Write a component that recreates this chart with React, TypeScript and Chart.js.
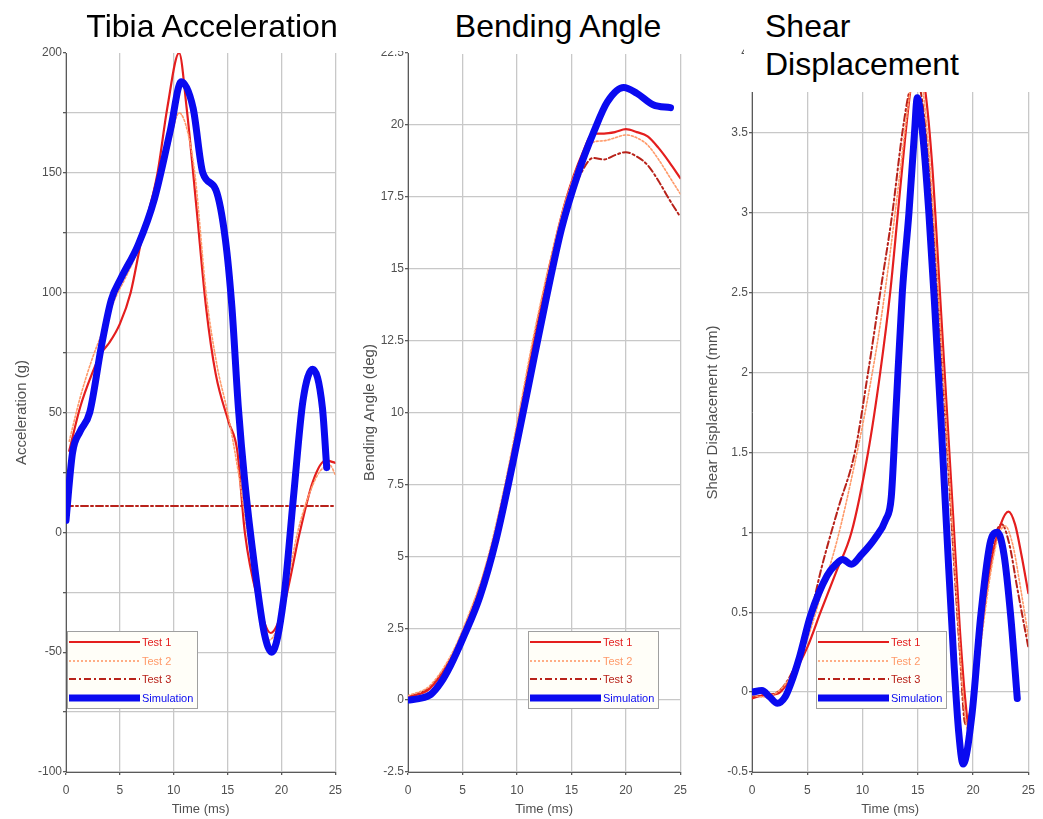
import React, { useEffect, useRef } from 'react';
import { Chart, registerables } from 'chart.js';

Chart.register(...registerables);

const FONT = "'Liberation Sans', Arial, Helvetica, sans-serif";

// ---------- Series labels ----------
const seriesLabels = ['Test 1', 'Test 2', 'Test 3', 'Simulation'];
const xTickValues = [0, 5, 10, 15, 20, 25];

// ---------- Panel 1: Tibia Acceleration ----------
const accTimeT1 = [0.3, 1.3, 2.4, 3.3, 4.0, 5.0, 6.0, 7.0, 8.5, 9.4, 10.5, 11.2, 12.1, 13.0, 13.9, 15.1, 15.9, 16.6, 17.8, 19.0, 20.2, 21.7, 22.9, 24.1, 25];
const accT1 = [34, 52, 66, 75, 79, 87, 100, 122, 150, 177, 200, 177, 136, 94, 66, 46, 34, 0, -28, -42, -31, 0, 21, 30, 29];
const accTimeT2 = [0.3, 1.3, 2.4, 3.5, 4.6, 5.5, 6.5, 7.5, 8.5, 9.5, 10.5, 11.3, 12.0, 13.0, 14.0, 15.0, 16.0, 17.0, 18.0, 18.8, 19.6, 20.5, 21.5, 22.5, 23.5, 24.5, 25];
const accT2 = [38, 56, 72, 85, 98, 106, 116, 130, 148, 160, 175, 167, 148, 100, 70, 50, 25, -5, -32, -45, -40, -22, 0, 15, 25, 28, 24];
const accTimeT3 = [0, 5, 10, 15, 20, 25];
const accT3 = [11, 11, 11, 11, 11, 11];
const accTimeSim = [0, 0.6, 1.3, 2.2, 3.3, 4.2, 5.1, 6.7, 8.2, 9.7, 10.7, 11.8, 12.7, 13.9, 14.8, 15.4, 16.0, 16.6, 17.5, 18.4, 19.1, 20.2, 21.1, 22.0, 22.9, 23.8, 24.2];
const accSim = [5, 33, 42, 50, 78, 97, 106, 120, 139, 168, 188, 177, 150, 143, 122, 94, 52, 21, -14, -42, -50, -28, 14, 55, 68, 52, 27];

// ---------- Panel 2: Bending Angle ----------
const bendTime = [0, 2, 4, 5.5, 7, 8.5, 10, 11.5, 13, 14.5, 16, 17, 18, 19, 20, 21, 22, 23, 24, 25];
const bendT1 = [0.1, 0.4, 1.5, 2.8, 4.4, 6.6, 9.4, 12.4, 15.1, 17.4, 19.0, 19.7, 19.7, 19.75, 19.85, 19.75, 19.6, 19.2, 18.7, 18.15];
const bendT2 = [0.15, 0.5, 1.6, 2.9, 4.5, 6.8, 9.6, 12.6, 15.2, 17.4, 18.9, 19.4, 19.45, 19.55, 19.65, 19.55, 19.3, 18.8, 18.2, 17.6];
const bendT3 = [0.1, 0.45, 1.5, 2.8, 4.4, 6.6, 9.4, 12.4, 15.0, 17.0, 18.4, 18.85, 18.8, 18.95, 19.05, 18.9, 18.6, 18.05, 17.4, 16.8];
const bendTimeSim = [0, 1, 2.1, 3, 3.9, 5.1, 6.6, 8.1, 9.6, 11.1, 12.6, 14.1, 15.6, 17.1, 18.3, 19.8, 21.0, 22.5, 24.1];
const bendSim = [0, 0.05, 0.2, 0.6, 1.2, 2.2, 3.6, 5.6, 8.2, 11.0, 13.8, 16.4, 18.3, 19.8, 20.8, 21.3, 21.1, 20.7, 20.6];

// ---------- Panel 3: Shear Displacement ----------
const shearTimeT1 = [0, 1, 2.3, 3.8, 5.0, 6.2, 7.6, 9.0, 10.5, 11.6, 12.5, 13.2, 13.9, 14.5, 15.1, 15.7, 16.3, 17.0, 17.6, 18.2, 18.8, 19.3, 19.7, 20.2, 20.8, 21.6, 22.5, 23.2, 23.8, 24.4, 25];
const shearT1 = [-0.04, -0.02, -0.01, 0.12, 0.28, 0.5, 0.75, 1.0, 1.5, 2.0, 2.5, 3.0, 3.5, 3.85, 3.95, 3.75, 3.3, 2.5, 1.8, 1.1, 0.4, -0.05, -0.25, 0.0, 0.4, 0.8, 1.05, 1.13, 1.05, 0.85, 0.62];
const shearTimeT2 = [0, 1, 2.3, 3.8, 5.0, 6.2, 7.7, 9.2, 10.5, 11.6, 12.5, 13.3, 14.0, 14.6, 15.2, 15.8, 16.5, 17.2, 17.9, 18.6, 19.2, 19.6, 20.1, 20.8, 21.6, 22.3, 22.9, 23.6, 24.3, 25];
const shearT2 = [-0.02, -0.03, 0.0, 0.13, 0.33, 0.6, 0.95, 1.4, 1.85, 2.3, 2.75, 3.2, 3.6, 3.85, 3.85, 3.55, 2.9, 2.1, 1.3, 0.5, -0.1, -0.25, -0.05, 0.35, 0.75, 0.98, 1.04, 0.92, 0.65, 0.35];
const shearTimeT3 = [0, 1, 2.3, 3.8, 5.0, 6.3, 7.8, 9.3, 10.5, 11.6, 12.7, 13.6, 14.2, 14.8, 15.4, 16.1, 16.8, 17.5, 18.2, 18.8, 19.3, 19.8, 20.5, 21.3, 22.0, 22.6, 23.3, 24.0, 25];
const shearT3 = [-0.03, -0.02, 0.0, 0.15, 0.4, 0.78, 1.15, 1.5, 2.0, 2.5, 3.0, 3.5, 3.75, 3.85, 3.7, 3.2, 2.5, 1.7, 0.9, 0.25, -0.2, -0.1, 0.3, 0.72, 0.98, 1.05, 0.92, 0.65, 0.28];
const shearTimeSim = [0, 0.9, 1.6, 2.3, 3.0, 3.5, 4.3, 5.3, 6.8, 7.6, 8.2, 9.0, 9.9, 11.1, 12.1, 12.6, 13.0, 13.6, 14.2, 14.7, 14.95, 15.5, 16.0, 16.5, 17.1, 17.7, 18.3, 18.7, 19.1, 19.9, 20.7, 21.6, 22.2, 22.8, 23.4, 24.0];
const shearSim = [0, 0.01, -0.03, -0.07, -0.03, 0.05, 0.22, 0.48, 0.73, 0.8, 0.83, 0.8, 0.86, 0.96, 1.08, 1.22, 1.73, 2.5, 3.0, 3.5, 3.72, 3.45, 3.0, 2.45, 1.7, 0.9, 0.15, -0.25, -0.45, -0.14, 0.48, 0.95, 1.0, 0.86, 0.48, -0.04];

// ---------- Styles ----------
const RED = '#e41e1e';
const ORANGE = '#ff9a6a';
const DARKRED = '#b8221a';
const BLUE = '#0a0af0';
const GRID = 'rgb(200,200,200)';
const AXIS = '#5a5a5a';
const TICK = '#505050';

type Series = { label: string; time: number[]; values: number[]; color: string; width: number; dash: number[]; order: number };

function makeSeries(times: number[][], vals: number[][]): Series[] {
  const colors = [RED, ORANGE, DARKRED, BLUE];
  const widths = [2.2, 1.6, 2, 7];
  const dashes = [[], [2, 2], [7, 3, 2, 3], []];
  const orders = [2, 1, 3, 0];
  return seriesLabels.map((label, i) => ({
    label, time: times[i], values: vals[i], color: colors[i], width: widths[i], dash: dashes[i], order: orders[i],
  }));
}

const inlineLegend = {
  id: 'inlineLegend',
  afterDraw(chart: any, _args: any, opts: any) {
    if (!opts || opts.left === undefined) return;
    const { ctx, chartArea } = chart;
    const w = 130, h = 77;
    const x0 = chartArea.left + opts.left;
    const y0 = chartArea.bottom - 64 - h;
    ctx.save();
    ctx.fillStyle = '#fffef8';
    ctx.fillRect(x0, y0, w, h);
    ctx.strokeStyle = '#a0a0a0';
    ctx.lineWidth = 1;
    ctx.strokeRect(x0 + 0.5, y0 + 0.5, w, h);
    const rows = [11, 30, 48, 67];
    chart.data.datasets.forEach((ds: any, i: number) => {
      const y = y0 + rows[i];
      ctx.beginPath();
      ctx.strokeStyle = ds.borderColor;
      ctx.lineWidth = ds.borderWidth;
      ctx.setLineDash(ds.borderDash || []);
      ctx.moveTo(x0 + 2, y);
      ctx.lineTo(x0 + 73, y);
      ctx.stroke();
      ctx.setLineDash([]);
      ctx.fillStyle = ds.borderColor;
      ctx.font = `11px ${FONT}`;
      ctx.textBaseline = 'middle';
      ctx.textAlign = 'left';
      ctx.fillText(ds.label, x0 + 75, y + 0.5);
    });
    ctx.restore();
  },
};

type PanelProps = {
  left: number; width: number; yWidth: number; rightPad: number;
  yTitle: string; yTitlePad: number;
  yMin: number; yMax: number; yStep: number; labelEvery: number;
  series: Series[]; legendLeft: number;
};

function Panel(p: PanelProps) {
  const ref = useRef<HTMLCanvasElement>(null);
  useEffect(() => {
    const canvas = ref.current!;
    const chart = new Chart(canvas, {
      type: 'line',
      data: {
        datasets: p.series.map((s) => ({
          label: s.label,
          data: s.time.map((t, k) => ({ x: t, y: s.values[k] })),
          borderColor: s.color,
          backgroundColor: s.color,
          borderWidth: s.width,
          borderDash: s.dash,
          pointRadius: 0,
          fill: false,
          cubicInterpolationMode: 'monotone',
          borderCapStyle: 'round',
          borderJoinStyle: 'round',
          order: s.order,
        })) as any,
      },
      options: {
        responsive: false,
        animation: false,
        devicePixelRatio: 1,
        layout: { padding: { left: 0, top: 53, right: p.rightPad, bottom: 0 } },
        plugins: {
          legend: { display: false },
          tooltip: { enabled: false },
          inlineLegend: { left: p.legendLeft },
        } as any,
        scales: {
          x: {
            type: 'linear', min: 0, max: 25,
            afterFit: (s: any) => { s.height = 47; },
            afterBuildTicks: (s: any) => { s.ticks = xTickValues.map((v) => ({ value: v })); },
            ticks: { autoSkip: false, maxRotation: 0, padding: 8, color: TICK, font: { family: FONT, size: 12 } },
            grid: { color: GRID, lineWidth: 1.3, tickLength: 3, tickColor: AXIS },
            border: { color: AXIS, width: 1 },
            title: { display: true, text: 'Time (ms)', color: TICK, font: { family: FONT, size: 13 }, padding: { top: 0, bottom: 2 } },
          },
          y: {
            type: 'linear', min: p.yMin, max: p.yMax,
            afterFit: (s: any) => { s.width = p.yWidth; },
            ticks: {
              stepSize: p.yStep, autoSkip: false, padding: 1, color: TICK, font: { family: FONT, size: 12 },
              callback: (v: any) => {
                const n = Math.round(Number(v) * 1000) / 1000;
                return Math.abs(Math.round(n / p.labelEvery) * p.labelEvery - n) < 1e-6 ? String(n) : '';
              },
            },
            grid: {
              color: (c: any) => (c.tick && Math.abs(c.tick.value - p.yMax) < 1e-6 ? 'rgba(0,0,0,0)' : GRID),
              lineWidth: 1.3, tickLength: 3, tickColor: AXIS,
            },
            border: { color: AXIS, width: 1 },
            title: { display: true, text: p.yTitle, color: TICK, font: { family: FONT, size: 15 }, padding: { top: p.yTitlePad, bottom: 0 } },
          },
        } as any,
      },
      plugins: [inlineLegend as any],
    });
    return () => chart.destroy();
  }, []);
  return (
    <canvas
      ref={ref}
      width={p.width}
      height={819}
      style={{ position: 'absolute', left: p.left, top: 0, width: p.width, height: 819 }}
    />
  );
}

const titleStyle: React.CSSProperties = {
  position: 'absolute', fontFamily: FONT, fontSize: 32, color: '#000', whiteSpace: 'nowrap',
};

export default function App() {
  const accSeries = makeSeries([accTimeT1, accTimeT2, accTimeT3, accTimeSim], [accT1, accT2, accT3, accSim]);
  const bendSeries = makeSeries([bendTime, bendTime, bendTime, bendTimeSim], [bendT1, bendT2, bendT3, bendSim]);
  const shearSeries = makeSeries([shearTimeT1, shearTimeT2, shearTimeT3, shearTimeSim], [shearT1, shearT2, shearT3, shearSim]);
  return (
    <div style={{ position: 'absolute', left: 0, top: 0, width: 1043, height: 819, background: '#fff', overflow: 'hidden' }}>
      <Panel left={0} width={350} yWidth={66} rightPad={7} yTitle="Acceleration (g)" yTitlePad={13}
        yMin={-100} yMax={200} yStep={25} labelEvery={50} series={accSeries} legendLeft={1} />
      <Panel left={350} width={345} yWidth={58} rightPad={7} yTitle="Bending Angle (deg)" yTitlePad={11}
        yMin={-2.5} yMax={22.5} yStep={2.5} labelEvery={2.5} series={bendSeries} legendLeft={120} />
      <Panel left={695} width={348} yWidth={57} rightPad={10} yTitle="Shear Displacement (mm)" yTitlePad={9}
        yMin={-0.5} yMax={4} yStep={0.5} labelEvery={0.5} series={shearSeries} legendLeft={64} />

      <div style={{ ...titleStyle, left: 0, top: 10, width: 424, textAlign: 'center', lineHeight: '32px' }}>Tibia Acceleration</div>

      <div style={{ position: 'absolute', left: 378, top: 0, width: 57, height: 51, background: '#fff' }} />
      <div style={{ position: 'absolute', left: 435, top: 0, width: 260, height: 54, background: '#fff' }} />
      <div style={{ ...titleStyle, left: 408, top: 10, width: 300, textAlign: 'center', lineHeight: '32px' }}>Bending Angle</div>

      <div style={{ position: 'absolute', left: 744, top: 0, width: 299, height: 92, background: '#fff' }} />
      <div style={{ ...titleStyle, left: 765, top: 7, lineHeight: '38px' }}>
        Shear<br />Displacement
      </div>
    </div>
  );
}
